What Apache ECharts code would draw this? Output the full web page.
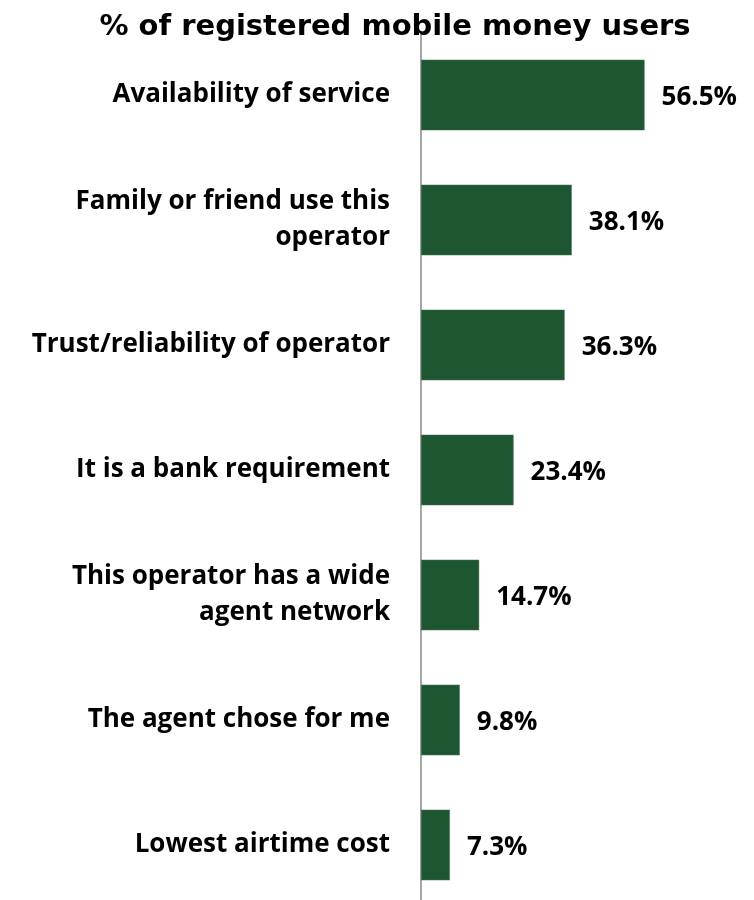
<!DOCTYPE html>
<html>
<head>
<meta charset="utf-8">
<script src="https://cdn.jsdelivr.net/npm/echarts@6/dist/echarts.min.js"></script>
<style>
  html, body { margin: 0; padding: 0; background: #ffffff; overflow: hidden; }
  #chart { width: 754px; height: 910px; }
</style>
</head>
<body>
<div id="chart"></div>
<script>
// Reasons for choosing a mobile money operator
const categories = [
  'Availability of service',
  'Family or friend use this\noperator',
  'Trust/reliability of operator',
  'It is a bank requirement',
  'This operator has a wide\nagent network',
  'The agent chose for me',
  'Lowest airtime cost'
];
const shares = [56.5, 38.1, 36.3, 23.4, 14.7, 9.8, 7.3];
const titleText = '% of registered mobile money users';

const chart = echarts.init(document.getElementById('chart'), null, { renderer: 'canvas' });

chart.setOption({
  animation: false,
  backgroundColor: '#ffffff',
  title: {
    text: titleText,
    left: 390,
    textAlign: 'center',
    top: 8,
    textStyle: {
      fontFamily: 'DejaVu Sans, sans-serif',
      fontWeight: 'bold',
      fontSize: 29,
      color: '#000000'
    }
  },
  grid: {
    left: 421,
    top: 32.5,
    width: 277,
    height: 875,
    containLabel: false
  },
  xAxis: {
    type: 'value',
    min: 0,
    max: 70,
    show: false
  },
  yAxis: {
    type: 'category',
    inverse: true,
    data: categories,
    axisLine: { show: true, lineStyle: { color: '#a6a6a6', width: 2 } },
    axisTick: { show: false },
    axisLabel: {
      margin: 31,
      align: 'right',
      padding: [4, 0, 0, 0],
      fontFamily: 'Open Sans, sans-serif',
      fontWeight: 'bold',
      fontSize: 26,
      lineHeight: 36,
      color: '#000000'
    }
  },
  series: [{
    type: 'bar',
    data: shares,
    barCategoryGap: '43.5%',
    itemStyle: { color: '#1d5631', borderColor: '#4f7a5c', borderWidth: 0.5 },
    label: {
      show: true,
      position: 'right',
      distance: 17,
      offset: [0, 3],
      formatter: p => p.value.toFixed(1) + '%',
      fontFamily: 'Open Sans, sans-serif',
      fontWeight: 'bold',
      fontSize: 26,
      color: '#000000'
    }
  }]
});
</script>
</body>
</html>
